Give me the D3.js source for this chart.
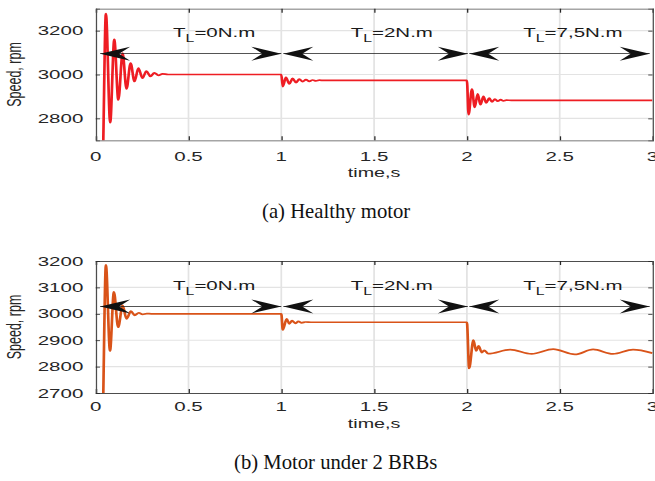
<!DOCTYPE html>
<html>
<head>
<meta charset="utf-8">
<script src="https://cdn.jsdelivr.net/npm/d3@7"></script>
<style>
  html, body { margin: 0; padding: 0; background: #fff; }
  svg { display: block; }
</style>
</head>
<body>
<svg id="fig" width="655" height="481"></svg>
<script>
// ---- data -------------------------------------------------------------
const timeTicks = [0, 0.5, 1, 1.5, 2, 2.5, 3];
const healthyTicks = [2800, 3000, 3200];
const brbTicks = [2700, 2800, 2900, 3000, 3100, 3200];

// rotor speed (rpm) of the healthy motor, sampled at its turning points
const healthyTime  = [0, 0.041, 0.055, 0.078, 0.100, 0.122, 0.145, 0.166, 0.188, 0.209, 0.230, 0.252, 0.273, 0.295, 0.316, 0.338, 0.360, 0.39,
                      1.0, 1.008, 1.025, 1.043, 1.061, 1.079, 1.097, 1.115, 1.133, 1.151, 1.169, 1.187, 1.205, 1.23,
                      2.0, 2.009, 2.027, 2.042, 2.058, 2.073, 2.089, 2.104, 2.12, 2.135, 2.151, 2.166, 2.182, 2.197, 2.213, 2.24, 3.0];
const healthySpeed = [0, 2700, 3278, 2780, 3160, 2884, 3097, 2934, 3052, 2968, 3029, 2983, 3016, 2991, 3008, 2996, 3003, 3000,
                      3000, 2945, 2987, 2957, 2982, 2963, 2979, 2967, 2977, 2969, 2975, 2971, 2974, 2973,
                      2973, 2817, 2934, 2850, 2912, 2862, 2900, 2870, 2892, 2875, 2888, 2878, 2885, 2880, 2883, 2882, 2882];

// rotor speed (rpm) of the motor with two broken rotor bars
const brbTime  = [0, 0.041, 0.055, 0.077, 0.098, 0.121, 0.145, 0.166, 0.19, 0.21, 0.232, 0.253, 0.275, 0.3,
                  1.0, 1.008, 1.029, 1.043, 1.058, 1.075, 1.092, 1.11, 1.13, 1.16,
                  2.0, 2.012, 2.035, 2.05, 2.063, 2.08, 2.093, 2.115, 2.233, 2.349, 2.465, 2.582, 2.68, 2.787, 2.895, 3.0];
const brbSpeed = [0, 2700, 3185, 2859, 3083, 2949, 3032, 2981, 3010, 2994, 3004, 2998, 3001, 3000,
                  3000, 2939, 2981, 2962, 2974, 2964, 2971, 2966, 2969, 2968,
                  2968, 2793, 2900, 2859, 2879, 2853, 2862, 2849, 2864, 2848, 2866, 2846, 2865, 2848, 2864, 2851];

// load torque intervals
const loadValues = ["0N.m", "2N.m", "7,5N.m"];
const loadFrom   = [0.024, 1.011, 2.013];
const loadTo     = [1.0, 2.005, 2.985];

// ---- layout -----------------------------------------------------------
const SX = 1.578;                 // horizontal stretch of the plotted figures
const FONT = "'Liberation Sans', Arial, Helvetica, sans-serif";
const INK = "#262626";
const labelAt = [0.417, 1.374, 2.304];   // left edge of each torque label (time units)

const panels = [
  { time: healthyTime, speed: healthySpeed, ticks: healthyTicks, domain: [2700, 3300],
    top: 8.7, bottom: 140.3, color: "#ee1d23", arrowAt: 3095, labelBase: 3170,
    tickBase: 160.7, xTitleBase: 177, caption: "(a) Healthy motor", capX: 262, capBase: 218 },
  { time: brbTime, speed: brbSpeed, ticks: brbTicks, domain: [2700, 3200],
    top: 261, bottom: 393, color: "#d95319", arrowAt: 3028, labelBase: 3092,
    tickBase: 411, xTitleBase: 428.5, caption: "(b) Motor under 2 BRBs", capX: 234, capBase: 469 }
];

const svg = d3.select("#fig");
const stage = svg.append("g").attr("transform", `scale(${SX},1)`);

const x = d3.scaleLinear().domain([0, 3]).range([95.7 / SX, 652.5 / SX]);

panels.forEach((p, i) => {
  const y = d3.scaleLinear().domain(p.domain).range([p.bottom, p.top]);
  const g = stage.append("g");
  const [x0, x1] = x.range();

  // grid
  g.append("g").selectAll("line").data(timeTicks.slice(1, -1)).join("line")
    .attr("x1", d => x(d)).attr("x2", d => x(d))
    .attr("y1", p.top).attr("y2", p.bottom)
    .attr("stroke", "#e3e3e3").attr("stroke-width", 1.1);
  g.append("g").selectAll("line").data(p.ticks.filter(v => v > p.domain[0] && v < p.domain[1])).join("line")
    .attr("x1", x0).attr("x2", x1)
    .attr("y1", d => y(d)).attr("y2", d => y(d))
    .attr("stroke", "#e3e3e3").attr("stroke-width", 1.1);

  // speed trace
  const clipId = "clip" + i;
  g.append("clipPath").attr("id", clipId).append("rect")
    .attr("x", x0).attr("y", p.top).attr("width", x1 - x0).attr("height", p.bottom - p.top);
  const pts = p.time.map((t, k) => [t, p.speed[k]]);
  g.append("path")
    .datum(pts)
    .attr("clip-path", `url(#${clipId})`)
    .attr("fill", "none")
    .attr("stroke", p.color)
    .attr("stroke-width", 1.7)
    .attr("stroke-linejoin", "round")
    .attr("d", d3.line().x(d => x(d[0])).y(d => y(d[1])).curve(d3.curveMonotoneX));

  // axes (inward ticks, boxed)
  const bottomAxis = d3.axisBottom(x).tickValues(timeTicks).tickSize(-4).tickFormat("");
  const topAxis = d3.axisTop(x).tickValues(timeTicks).tickSize(-4).tickFormat("");
  const leftAxis = d3.axisLeft(y).tickValues(p.ticks).tickSize(-2.7).tickFormat("");
  const rightAxis = d3.axisRight(y).tickValues(p.ticks).tickSize(-2.7).tickFormat("");
  [[bottomAxis, `translate(0,${p.bottom})`], [topAxis, `translate(0,${p.top})`],
   [leftAxis, `translate(${x0},0)`], [rightAxis, `translate(${x1},0)`]].forEach(([ax, tr]) => {
    const a = g.append("g").attr("transform", tr).call(ax);
    a.select(".domain").attr("stroke", "#4d4d4d").attr("stroke-width", 0.8);
    a.selectAll(".tick line").attr("stroke", INK).attr("stroke-width", 0.8);
  });

  // tick labels
  g.append("g").selectAll("text").data(timeTicks).join("text")
    .attr("x", d => x(d)).attr("y", p.tickBase)
    .attr("text-anchor", "middle")
    .attr("font-family", FONT).attr("font-size", 13).attr("fill", INK)
    .text(d => d3.format("~g")(d));
  g.append("g").selectAll("text").data(p.ticks).join("text")
    .attr("x", 83.3 / SX).attr("y", d => y(d)).attr("dy", "0.35em")
    .attr("text-anchor", "end")
    .attr("font-family", FONT).attr("font-size", 13).attr("fill", INK)
    .text(d => d);

  // axis titles
  g.append("text")
    .attr("x", (x0 + x1) / 2).attr("y", p.xTitleBase)
    .attr("text-anchor", "middle")
    .attr("font-family", FONT).attr("font-size", 12.5).attr("fill", INK)
    .text("time,s");
  g.append("text")
    .attr("transform", `translate(${20.7 / SX},${(p.top + p.bottom) / 2}) rotate(-90)`)
    .attr("text-anchor", "middle")
    .attr("font-family", FONT).attr("font-size", 12.5).attr("fill", INK)
    .text("Speed, rpm");

  // double-headed arrows marking the load intervals
  const head = "M0,0 L-19,-7 L-12,0 L-19,7 Z";
  const ay = y(p.arrowAt);
  loadValues.forEach((lv, k) => {
    const a = x(loadFrom[k]), b = x(loadTo[k]);
    g.append("line").attr("x1", a).attr("x2", b).attr("y1", ay).attr("y2", ay)
      .attr("stroke", "#1a1a1a").attr("stroke-width", 0.9);
    g.append("path").attr("d", head).attr("fill", "#111")
      .attr("transform", `translate(${b},${ay})`);
    g.append("path").attr("d", head).attr("fill", "#111")
      .attr("transform", `translate(${a},${ay}) scale(-1,1)`);

    const t = g.append("text")
      .attr("x", x(labelAt[k])).attr("y", y(p.labelBase))
      .attr("font-family", FONT).attr("font-size", 13).attr("fill", "#1a1a1a");
    t.append("tspan").text("T");
    t.append("tspan").attr("font-size", 10).attr("dy", 5).text("L");
    t.append("tspan").attr("dy", -5).text("=" + lv);
  });
});

// captions (not stretched)
svg.append("g").selectAll("text").data(panels).join("text")
  .attr("x", d => d.capX).attr("y", d => d.capBase)
  .attr("font-family", "'Liberation Serif', 'Times New Roman', serif")
  .attr("font-size", 20.7).attr("fill", "#111")
  .text(d => d.caption);
</script>
</body>
</html>
